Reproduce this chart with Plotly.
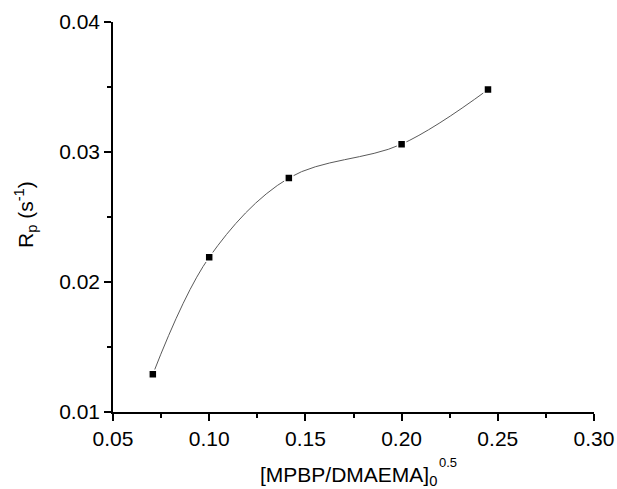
import plotly.graph_objects as go

x_vals = [0.0707, 0.1000, 0.1414, 0.2000, 0.2449]
rp_vals = [0.0129, 0.0219, 0.0280, 0.0306, 0.0348]

x_ticks = [0.05, 0.10, 0.15, 0.20, 0.25, 0.30]
x_ticklabels = ["0.05", "0.10", "0.15", "0.20", "0.25", "0.30"]
y_ticks = [0.01, 0.02, 0.03, 0.04]
y_ticklabels = ["0.01", "0.02", "0.03", "0.04"]

L, R, T, B = 113, 23, 22, 77
W, H = 617, 489
pw = W - L - R
ph = H - T - B


def px_x(px):
    return (px - L) / pw


def px_y(py):
    return (H - B - py) / ph


fig = go.Figure()
fig.add_trace(go.Scatter(
    x=x_vals, y=rp_vals, mode="lines",
    line=dict(shape="spline", smoothing=1.0, color="#5a5a5a", width=1),
    hoverinfo="skip", showlegend=False,
))
fig.add_trace(go.Scatter(
    x=x_vals, y=rp_vals, mode="markers",
    marker=dict(symbol="square", size=8, color="black",
                line=dict(color="white", width=1.5)),
    showlegend=False,
))

font_family = "Liberation Sans, Arial, sans-serif"
fs = 21
fig.update_layout(
    width=W, height=H, autosize=False,
    margin=dict(l=L, r=R, t=T, b=B, pad=0, autoexpand=False),
    plot_bgcolor="white", paper_bgcolor="white",
    font=dict(family=font_family, size=fs, color="black"),
    showlegend=False,
)
fig.update_xaxes(
    range=[0.05, 0.30], tickvals=x_ticks, ticktext=x_ticklabels,
    showline=True, linecolor="black", linewidth=1.5,
    ticks="outside", ticklen=7, tickwidth=1.5, tickcolor="black",
    showgrid=False, zeroline=False, automargin=False,
    minor=dict(ticks="outside", ticklen=4, tickwidth=1.5, tickcolor="black",
               dtick=0.025, tick0=0.05, showgrid=False),
    tickfont=dict(size=fs),
)
fig.update_yaxes(
    range=[0.01, 0.04], tickvals=y_ticks, ticktext=y_ticklabels,
    showline=True, linecolor="black", linewidth=1.5,
    ticks="outside", ticklen=7, tickwidth=1.5, tickcolor="black",
    showgrid=False, zeroline=False, automargin=False,
    minor=dict(ticks="outside", ticklen=4, tickwidth=1.5, tickcolor="black",
               dtick=0.005, tick0=0.01, showgrid=False),
    tickfont=dict(size=fs),
)

# x-axis title: main text with subscript, superscript stacked above the subscript
fig.add_annotation(
    text="[MPBP/DMAEMA]<sub>0</sub>", xref="paper", yref="paper",
    x=px_x(348), y=px_y(476),
    xanchor="center", yanchor="middle", showarrow=False,
    font=dict(size=fs, family=font_family),
)
fig.add_annotation(
    text="0.5", xref="paper", yref="paper",
    x=px_x(437), y=px_y(462),
    xanchor="left", yanchor="middle", showarrow=False,
    font=dict(size=13, family=font_family),
)
# y-axis title
fig.add_annotation(
    text="R<sub>p</sub> (s<sup>-1</sup>)", xref="paper", yref="paper",
    x=px_x(25), y=px_y(215),
    xanchor="center", yanchor="middle", textangle=-90, showarrow=False,
    font=dict(size=fs, family=font_family),
)

fig.write_html("out.html")
